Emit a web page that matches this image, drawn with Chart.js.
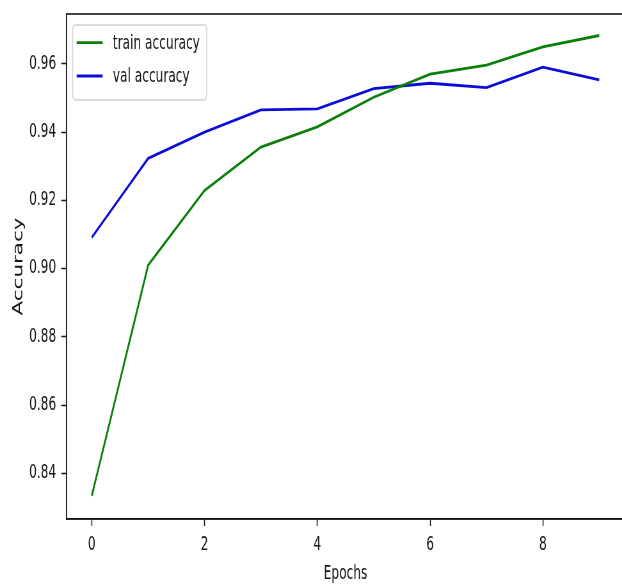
<!DOCTYPE html>
<html><head><meta charset="utf-8">
<script src="https://cdn.jsdelivr.net/npm/chart.js@4/dist/chart.umd.min.js"></script>
<style>
html,body{margin:0;padding:0;background:#fff;overflow:hidden;}
#clip{position:relative;width:622px;height:587px;overflow:hidden;background:#fff;}
#wrap{position:absolute;left:0;top:0;width:980px;height:587px;transform:scaleX(0.64);transform-origin:0 0;}
</style></head><body>
<div id="clip"><div id="wrap"><canvas id="c"></canvas></div></div>
<script>
const epochs = [0, 1, 2, 3, 4, 5, 6, 7, 8, 9];
const trainAccuracy = [0.8334, 0.9010, 0.9229, 0.9356, 0.9415, 0.9502, 0.9570, 0.9596, 0.9650, 0.9683];
const valAccuracy = [0.9091, 0.9323, 0.9400, 0.9465, 0.9468, 0.9527, 0.9543, 0.9530, 0.9590, 0.9553];
const xTickValues = [0, 2, 4, 6, 8];
const yTickValues = [0.84, 0.86, 0.88, 0.90, 0.92, 0.94, 0.96];
const seriesLabels = ['train accuracy', 'val accuracy'];
const xTitle = 'Epochs';
const yTitle = 'Accuracy';

const FONT = 'DejaVu Sans';
const INK = '#161616';
Chart.defaults.font.family = FONT;
Chart.defaults.color = INK;

const toPoints = (xs, ys) => xs.map((x, i) => ({x: x, y: ys[i]}));

function roundRectPath(ctx, x, y, w, h, r) {
  ctx.beginPath();
  ctx.moveTo(x + r, y);
  ctx.lineTo(x + w - r, y);
  ctx.quadraticCurveTo(x + w, y, x + w, y + r);
  ctx.lineTo(x + w, y + h - r);
  ctx.quadraticCurveTo(x + w, y + h, x + w - r, y + h);
  ctx.lineTo(x + r, y + h);
  ctx.quadraticCurveTo(x, y + h, x, y + h - r);
  ctx.lineTo(x, y + r);
  ctx.quadraticCurveTo(x, y, x + r, y);
  ctx.closePath();
}

const framePlugin = {
  id: 'frameAndLegend',
  afterDraw(chart) {
    const ctx = chart.ctx, a = chart.chartArea;
    ctx.save();
    ctx.strokeStyle = INK;
    ctx.lineWidth = 1.6;
    ctx.strokeRect(a.left, a.top, a.right - a.left, a.bottom - a.top);
    // legend box
    const fx = a.left + 9.85, fy = a.top + 11, fw = 209.4, fh = 75;
    roundRectPath(ctx, fx, fy, fw, fh, 5);
    ctx.fillStyle = 'rgba(255,255,255,0.8)';
    ctx.fill();
    ctx.strokeStyle = '#d0d0d0';
    ctx.lineWidth = 1.4;
    ctx.stroke();
    chart.data.datasets.forEach((ds, i) => {
      const y = a.top + 28.7 + i * 33.3;
      ctx.strokeStyle = ds.borderColor;
      ctx.lineWidth = ds.borderWidth;
      ctx.beginPath();
      ctx.moveTo(a.left + 16, y);
      ctx.lineTo(a.left + 56.6, y);
      ctx.stroke();
      ctx.fillStyle = INK;
      ctx.font = '19px "' + FONT + '"';
      ctx.textBaseline = 'middle';
      ctx.textAlign = 'left';
      ctx.fillText(ds.label, a.left + 72.6, y + 1);
    });
    ctx.restore();
  }
};

new Chart(document.getElementById('c'), {
  type: 'line',
  data: {
    datasets: [
      {label: seriesLabels[0], data: toPoints(epochs, trainAccuracy), borderColor: '#0a7f0a', borderWidth: 2.8, pointRadius: 0, tension: 0, fill: false},
      {label: seriesLabels[1], data: toPoints(epochs, valAccuracy), borderColor: '#0c0cd8', borderWidth: 2.8, pointRadius: 0, tension: 0, fill: false}
    ]
  },
  options: {
    responsive: true,
    maintainAspectRatio: false,
    animation: false,
    devicePixelRatio: 1,
    events: [],
    layout: {padding: {left: 0, top: 14, right: 4, bottom: 0}},
    plugins: {legend: {display: false}, tooltip: {enabled: false}},
    scales: {
      x: {
        type: 'linear', min: -0.45, max: 9.45,
        afterBuildTicks: s => { s.ticks = xTickValues.map(v => ({value: v})); },
        afterFit: s => { s.height = 68; s.paddingLeft = 0; s.paddingRight = 0; },
        ticks: {font: {size: 19}, color: INK, padding: 8, autoSkip: false, maxRotation: 0, callback: v => String(v)},
        grid: {drawOnChartArea: false, drawTicks: true, tickLength: 7, tickColor: INK, tickWidth: 1.5},
        border: {color: INK, width: 1.6},
        title: {display: true, text: xTitle, font: {size: 19}, color: INK, padding: {top: 0, bottom: 2}}
      },
      y: {
        type: 'linear', min: 0.8266, max: 0.9746,
        afterBuildTicks: s => { s.ticks = yTickValues.map(v => ({value: v})); },
        afterFit: s => { s.width = 103.75; s.paddingTop = 0; s.paddingBottom = 0; },
        ticks: {font: {size: 19}, color: INK, padding: 8, autoSkip: false, callback: v => v.toFixed(2)},
        grid: {drawOnChartArea: false, drawTicks: true, tickLength: 8, tickColor: INK, tickWidth: 1.5},
        border: {color: INK, width: 1.6},
        title: {display: true, text: yTitle, font: {size: 21.5}, color: INK, padding: {top: 16.8, bottom: 0}}
      }
    }
  },
  plugins: [framePlugin]
});
</script>
</body></html>
